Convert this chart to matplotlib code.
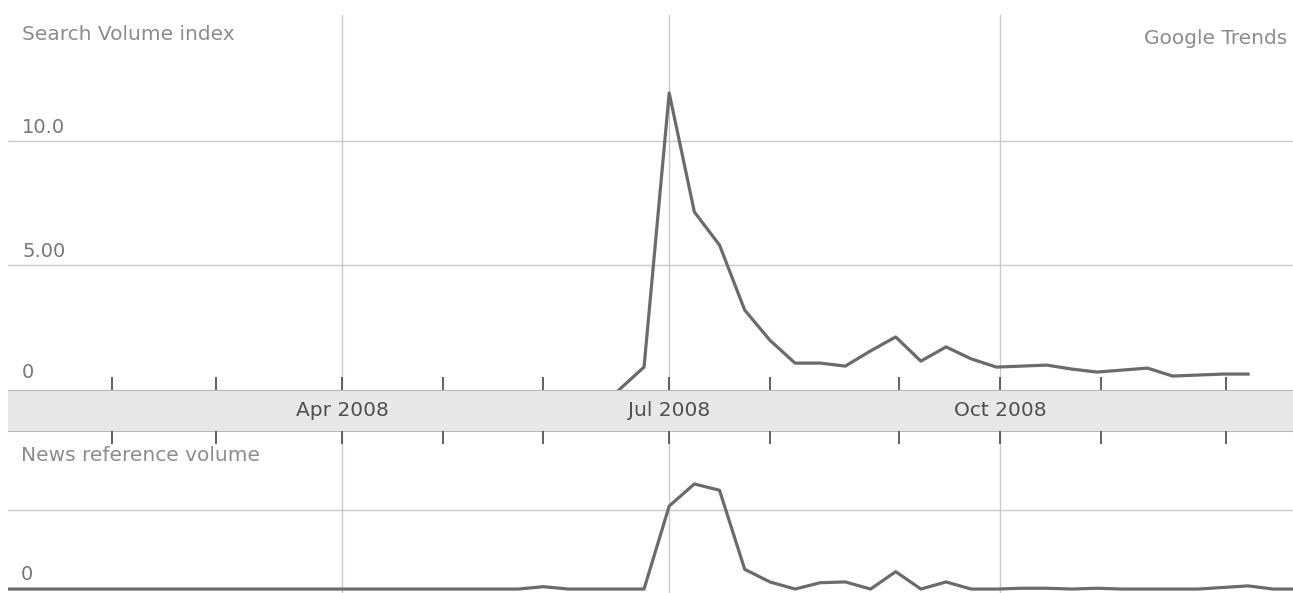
import matplotlib
matplotlib.use("Agg")
import matplotlib.pyplot as plt
import matplotlib.dates as mdates
import matplotlib.transforms as mtransforms
import numpy as np
from datetime import datetime, timedelta

# ---------------- data ----------------
search_start = datetime(2008, 6, 17)
search_values = [0, 0.92, 11.93, 7.15, 5.82, 3.21, 2.0, 1.08, 1.08, 0.96, 1.57,
                 2.13, 1.16, 1.73, 1.25, 0.92, 0.96, 1.0, 0.84, 0.72, 0.8, 0.88,
                 0.56, 0.6, 0.64, 0.64]

news_start = datetime(2007, 12, 25)
news_values = [0, 0, 0, 0, 0, 0, 0, 0, 0, 0,
               0, 0, 0, 0, 0, 0, 0, 0, 0, 0,
               0, 0, 0.03, 0, 0, 0, 0, 1.05, 1.33, 1.25,
               0.25, 0.09, 0, 0.08, 0.09, 0, 0.22, 0, 0.09, 0,
               0, 0.01, 0.01, 0, 0.01, 0, 0, 0, 0, 0.02,
               0.04, 0, 0]

search_dates = [search_start + timedelta(weeks=i) for i in range(len(search_values))]
news_dates = [news_start + timedelta(weeks=i) for i in range(len(news_values))]

month_labels = ["Apr 2008", "Jul 2008", "Oct 2008"]
month_dates = [datetime(2008, 4, 1), datetime(2008, 7, 1), datetime(2008, 10, 1)]
tick_dates = [datetime(2008, 1, 28), datetime(2008, 2, 26), datetime(2008, 4, 1),
              datetime(2008, 4, 29), datetime(2008, 5, 27), datetime(2008, 7, 1),
              datetime(2008, 7, 29), datetime(2008, 9, 3), datetime(2008, 10, 1),
              datetime(2008, 10, 29), datetime(2008, 12, 3)]

search_grid = [5, 10]
search_labels = ["0", "5.00", "10.0"]
search_label_vals = [0, 5, 10]
news_grid = [1]
news_label_vals = [0]
news_labels = ["0"]

# ---------------- style ----------------
plt.rcParams["font.family"] = ["DejaVu Sans"]
LINE = "#6b6b6b"
GRID = "#c9c9d3"
TXT = "#8c8c8c"
TICKTXT = "#777777"
BANDTXT = "#505050"
TICK = "#555555"

W, H = 1293, 593
fig = plt.figure(figsize=(W / 100, H / 100), dpi=100)
fig.patch.set_facecolor("white")

left = 8 / W
width = (W - 8) / W
ax1 = fig.add_axes([left, 1 - 390 / H, width, 375 / H])
axb = fig.add_axes([left, 1 - 431 / H, width, 41 / H])
ax2 = fig.add_axes([left, 0, width, 162 / H])

apr1 = mdates.date2num(datetime(2008, 4, 1))
xlim = (apr1 - 92.9, apr1 + 264.5)

for ax in (ax1, axb, ax2):
    ax.set_xlim(xlim)
    for s in ax.spines.values():
        s.set_visible(False)
    ax.set_facecolor("none")

# top chart
ax1.set_ylim(0, 15.06)
for g in search_grid:
    ax1.axhline(g, color=GRID, lw=1.0, zorder=1)
for d in month_dates:
    ax1.axvline(d, color=GRID, lw=1.0, zorder=1)
ax1.plot(search_dates, search_values, color=LINE, lw=2.3, zorder=3,
         solid_joinstyle="round")
ax1.set_yticks([])
ax1.set_xticks(tick_dates)
ax1.tick_params(axis="x", direction="in", length=9.5, width=1.3, color=TICK,
                labelbottom=False, bottom=True, top=False)
trans1 = mtransforms.blended_transform_factory(ax1.transAxes, ax1.transData)
for v, lab in zip(search_label_vals, search_labels):
    ax1.annotate(lab, xy=(0, v), xycoords=trans1, xytext=(14, 8 if v else 12),
                 textcoords="offset pixels", ha="left", va="baseline",
                 fontsize=14, color=TICKTXT)

# band
axb.set_facecolor("#e8e8e8")
axb.set_ylim(0, 1)
axb.set_yticks([])
axb.set_xticks([])
axb.spines["top"].set_visible(True)
axb.spines["bottom"].set_visible(True)
axb.spines["top"].set_color("#b8b8b8")
axb.spines["bottom"].set_color("#b8b8b8")
for d, lab in zip(month_dates, month_labels):
    axb.text(d, 0.5, lab, ha="center", va="center", fontsize=14.5, color=BANDTXT)

# bottom chart
ax2.set_ylim(-0.05, 2.0)
for g in news_grid:
    ax2.axhline(g, color=GRID, lw=1.0, zorder=1)
for d in month_dates:
    ax2.axvline(d, color=GRID, lw=1.0, zorder=1)
ax2.plot(news_dates, news_values, color=LINE, lw=2.3, zorder=3,
         solid_joinstyle="round", clip_on=True)
ax2.set_yticks([])
ax2.set_xticks(tick_dates)
ax2.tick_params(axis="x", direction="in", length=9, width=1.3, color=TICK,
                labelbottom=False, labeltop=False, bottom=False, top=True)
trans2 = mtransforms.blended_transform_factory(ax2.transAxes, ax2.transData)
for v, lab in zip(news_label_vals, news_labels):
    ax2.annotate(lab, xy=(0, v), xycoords=trans2, xytext=(13, 9),
                 textcoords="offset pixels", ha="left", va="baseline",
                 fontsize=14, color=TICKTXT)

# titles
fig.text(22 / W, 1 - 40 / H, "Search Volume index", ha="left", va="baseline",
         fontsize=14.5, color=TXT)
fig.text(1287 / W, 1 - 44 / H, "Google Trends", ha="right", va="baseline",
         fontsize=14.5, color=TXT)
fig.text(21 / W, 1 - 461 / H, "News reference volume", ha="left", va="baseline",
         fontsize=14.5, color=TXT)

fig.savefig("out.png", dpi=100, facecolor="white")
